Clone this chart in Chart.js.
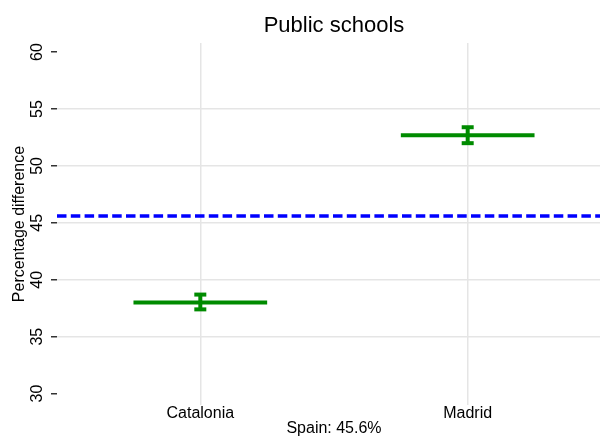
<!DOCTYPE html>
<html>
<head>
<meta charset="utf-8">
<script src="https://cdn.jsdelivr.net/npm/chart.js@4"></script>
<style>
html,body{margin:0;padding:0;background:#fff;overflow:hidden}
#wrap{width:611px;height:439px;position:relative}
</style>
</head>
<body>
<div id="wrap"><canvas id="chart"></canvas></div>
<script>
const categories=["Catalonia","Madrid"];
const values=[38.0,52.7];
const lower=[37.4,52.0];
const upper=[38.7,53.4];
const spain=45.6;
const yTicks=[30,35,40,45,50,55,60];

const GREEN="#008b00",FONT="'Liberation Sans', Arial, sans-serif";
const xMin=0.464,xMax=2.536,half=0.25;

// one flat segment + one error bar per region, then the Spain line
const datasets=[];
categories.forEach((c,i)=>{
  datasets.push({data:[{x:i+1-half,y:values[i]},{x:i+1+half,y:values[i]}],
    borderColor:GREEN,borderWidth:4,pointRadius:0});
  datasets.push({data:[{x:i+1,y:lower[i]},{x:i+1,y:upper[i]}],
    borderColor:GREEN,borderWidth:4,pointStyle:"line",pointRadius:6,
    pointBorderWidth:4,pointBorderColor:GREEN});
});
datasets.push({data:[{x:xMin,y:spain},{x:xMax,y:spain}],
  borderColor:"#0000ff",borderWidth:3.5,borderDash:[9.5,4.3],pointRadius:0});

new Chart(document.getElementById("chart"),{
  type:"line",
  data:{datasets},
  options:{
    responsive:true,maintainAspectRatio:false,animation:false,
    layout:{padding:0,autoPadding:false},
    plugins:{
      legend:{display:false},
      tooltip:{enabled:false},
      title:{display:true,text:"Public schools",fullSize:false,color:"#000",
        font:{family:FONT,size:22,weight:"normal"},padding:{top:13.2,bottom:3.4}}
    },
    scales:{
      x:{type:"linear",min:xMin,max:xMax,
        afterBuildTicks:s=>{s.ticks=categories.map((c,i)=>({value:i+1}))},
        afterFit:s=>{s.height=34},
        ticks:{callback:v=>categories[v-1],color:"#000",font:{family:FONT,size:16},
          padding:-1,maxRotation:0,autoSkip:false},
        grid:{color:"#e5e5e5",lineWidth:1.5,drawTicks:false},
        border:{display:false},
        title:{display:true,text:"Spain: "+spain+"%",color:"#000",
          font:{family:FONT,size:16},padding:{top:0,bottom:1}}
      },
      y:{min:29,max:60.8,
        afterBuildTicks:s=>{s.ticks=yTicks.map(v=>({value:v}))},
        afterFit:s=>{s.width=57},
        ticks:{color:"#000",font:{family:FONT,size:16},padding:5,
          minRotation:90,maxRotation:90,crossAlign:"center",autoSkip:false},
        grid:{color:c=>(c.tick&&(c.tick.value===30||c.tick.value===60))?"rgba(0,0,0,0)":"#e5e5e5",
          lineWidth:1.5,tickLength:6,tickColor:"#333",tickWidth:1.5},
        border:{display:false},
        title:{display:true,text:"Percentage difference",color:"#000",
          font:{family:FONT,size:16},padding:{top:10,bottom:0}}
      }
    }
  }
});
</script>
</body>
</html>
